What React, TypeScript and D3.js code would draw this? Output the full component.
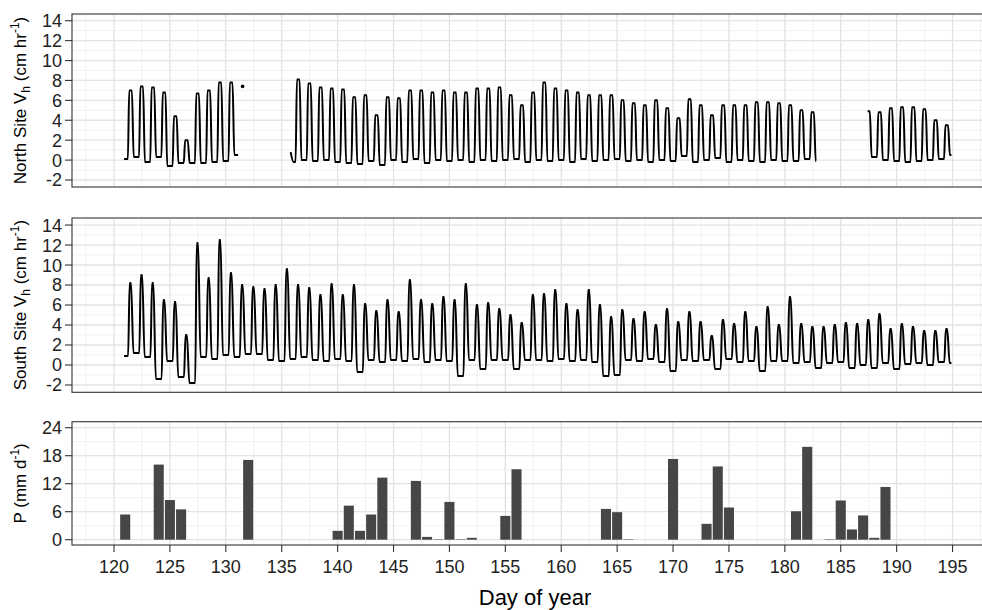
import React from 'react';
import * as d3 from 'd3';

const W = 982, H = 610;

// day-of-year categories (121 .. 194)
const days = d3.range(121, 195);

// North site sap flux: midday peak and pre-dawn low of each day (cm hr-1), null = logger gap
const northPeak = [
  7.0, 7.4, 7.3, 6.8, 4.4, 2.0, 6.7, 7.0, 7.8, 7.8,
  null, null, null, null, null,
  8.1, 7.7, 7.3, 7.2, 7.1, 6.3, 6.5, 4.5, 6.3, 6.2,
  7.0, 7.0, 6.8, 7.0, 6.8, 6.8, 7.2, 7.2, 7.3, 6.5,
  5.5, 6.8, 7.8, 7.2, 7.0, 6.8, 6.5, 6.5, 6.5, 6.0,
  5.7, 5.5, 6.0, 5.2, 4.2, 6.1, 5.5, 4.5, 5.5, 5.5,
  5.5, 5.8, 5.8, 5.7, 5.5, 5.0, 4.8,
  null, null, null, null,
  4.9, 4.8, 5.2, 5.3, 5.3, 5.1, 4.0, 3.5,
];
const northLow = [
  0.1, 0.3, -0.2, 0.3, -0.6, -0.3, -0.3, -0.3, -0.2, -0.1,
  0.5, null, null, null, null,
  -0.2, 0.0, -0.1, 0.0, -0.2, -0.3, -0.4, -0.1, -0.5, 0.0,
  -0.2, 0.1, -0.3, 0.0, -0.1, 0.0, -0.2, 0.0, -0.1, 0.0,
  0.1, -0.2, 0.0, -0.1, 0.0, -0.2, 0.1, -0.1, 0.0, 0.1,
  -0.1, 0.0, -0.2, 0.0, -0.1, 0.4, -0.2, 0.0, 0.2, -0.2,
  0.0, -0.1, -0.2, 0.0, -0.1, -0.1, 0.1,
  -0.1, null, null, null,
  null, 0.3, 0.0, -0.1, -0.2, -0.1, 0.0, 0.1,
];
const northStarts = [[120.9, 0.1], [135.8, 0.8], [187.4, 4.9]];
const northEnds = [[131.1, 0.5], [182.8, -0.1], [194.9, 0.5]];
const northDot = [131.5, 7.4];

// South site sap flux
const southPeak = [
  8.2, 9.0, 8.2, 6.5, 6.3, 3.0, 12.2, 8.7, 12.5, 9.2,
  8.0, 7.8, 7.6, 8.0, 9.6, 8.0, 7.7, 7.0, 8.1, 7.0,
  8.0, 6.1, 5.4, 6.5, 5.3, 8.5, 6.5, 6.1, 6.8, 6.5,
  8.1, 6.0, 6.2, 5.6, 5.0, 4.2, 7.0, 7.1, 7.5, 6.1,
  5.5, 7.5, 6.0, 4.8, 5.5, 4.6, 5.3, 4.0, 5.6, 4.3,
  5.3, 4.3, 2.9, 4.5, 4.1, 5.3, 3.8, 5.8, 4.0, 6.8,
  4.1, 3.8, 3.8, 4.0, 4.2, 4.1, 4.5, 5.1, 3.6, 4.1,
  3.8, 3.4, 3.4, 3.6,
];
const southLow = [
  0.9, 1.2, 0.8, -1.4, 0.4, -1.2, -1.8, 0.8, 0.6, 1.0,
  0.8, 1.1, 1.1, 0.5, 0.4, 0.6, 0.8, 0.5, 0.4, 0.6,
  0.4, -0.7, 0.5, 0.3, 0.5, 0.4, 0.6, 0.3, 0.5, 0.4,
  -1.1, 0.5, -0.4, 0.5, 0.5, -0.4, 0.5, 0.5, 0.4, 0.6,
  0.4, 0.5, 0.3, -1.1, -1.0, 0.5, 0.4, 0.6, 0.3, -0.6,
  0.5, 0.4, 0.5, -0.4, 0.6, 0.3, 0.4, -0.6, 0.4, 0.4,
  0.2, 0.3, -0.3, 0.2, 0.3, -0.3, 0.0, -0.3, 0.2, -0.4,
  0.1, 0.2, 0.0, 0.3,
];
const southStarts = [[120.9, 0.9]];
const southEnds = [[194.9, 0.2]];

// daily precipitation (mm d-1)
const precipDays = [121, 124, 125, 126, 132, 140, 141, 142, 143, 144, 147, 148, 149, 150, 151, 152, 155, 156,
  164, 165, 166, 170, 173, 174, 175, 181, 182, 184, 185, 186, 187, 188, 189];
const precipVals = [5.4, 16.1, 8.5, 6.5, 17.1, 1.9, 7.3, 1.9, 5.4, 13.3, 12.6, 0.6, 0.1, 8.1, 0.1, 0.4, 5.1, 15.1,
  6.6, 5.9, 0.1, 17.3, 3.4, 15.7, 6.9, 6.1, 19.9, 0.1, 8.4, 2.2, 5.2, 0.4, 11.3];

const xTicks = [120, 125, 130, 135, 140, 145, 150, 155, 160, 165, 170, 175, 180, 185, 190, 195];
const vTicks = [-2, 0, 2, 4, 6, 8, 10, 12, 14];
const pTicks = [0, 6, 12, 18, 24];

// time of day (fraction) of dawn low, rise to peak, end of peak, dusk low
const northClock = [0.06, 0.24, 0.36, 0.6, 0.76];
const southClock = [0.06, 0.26, 0.4, 0.52, 0.74];

const left = 72, right = 988;
const x = d3.scaleLinear().domain([116.243, 198.17]).range([left, right]);

// build one polyline per logger segment from the daily low / peak readings
function buildSegments(peak, low, starts, ends, clock) {
  return starts.map(([s, sv], k) => {
    const [e, ev] = ends[k];
    const pts = [[s, sv]];
    days.forEach((d, i) => {
      const p = peak[i];
      if (p == null) return;
      const lo = low[i] ?? sv;
      const next = low[i + 1] ?? ev;
      const vals = [lo, lo, p, p, next];
      clock.forEach((c, j) => {
        const t = d + c;
        if (t > s && t < e) pts.push([t, vals[j]]);
      });
    });
    pts.push([e, ev]);
    return pts;
  });
}

const gridMajor = '#e3e3e3', gridMinor = '#eeeeee', ink = '#333333';

function Panel({ top, bottom, y, major, minor, children }) {
  return (
    <g>
      <rect x={left} y={top} width={right - left} height={bottom - top} fill="#fff" />
      {minor.map(v => (
        <line key={'ym' + v} x1={left} x2={right} y1={y(v)} y2={y(v)} stroke={gridMinor} strokeWidth={0.8} />
      ))}
      {d3.range(117.5, 200, 5).map(v => (
        <line key={'xm' + v} x1={x(v)} x2={x(v)} y1={top} y2={bottom} stroke={gridMinor} strokeWidth={0.8} />
      ))}
      {major.map(v => (
        <line key={'yM' + v} x1={left} x2={right} y1={y(v)} y2={y(v)} stroke={gridMajor} strokeWidth={1.3} />
      ))}
      {xTicks.map(v => (
        <line key={'xM' + v} x1={x(v)} x2={x(v)} y1={top} y2={bottom} stroke={gridMajor} strokeWidth={1.3} />
      ))}
      {children}
      <rect x={left} y={top} width={right - left} height={bottom - top} fill="none" stroke={ink} strokeWidth={1.1} />
      {major.map(v => (
        <g key={'t' + v}>
          <line x1={left - 7} x2={left} y1={y(v)} y2={y(v)} stroke={ink} strokeWidth={1.1} />
          <text x={left - 10} y={y(v)} dy="0.36em" textAnchor="end" fontSize={18} fill="#222">{v}</text>
        </g>
      ))}
    </g>
  );
}

export default function App() {
  const yN = d3.scaleLinear().domain([-2.703, 14.673]).range([187, 14]);
  const yS = d3.scaleLinear().domain([-2.73, 14.703]).range([392.3, 218]);
  const yP = d3.scaleLinear().domain([-1.136, 25.29]).range([545, 421.7]);

  const lineN = d3.line().x(d => x(d[0])).y(d => yN(d[1])).curve(d3.curveMonotoneX);
  const lineS = d3.line().x(d => x(d[0])).y(d => yS(d[1])).curve(d3.curveMonotoneX);

  const northSegs = buildSegments(northPeak, northLow, northStarts, northEnds, northClock);
  const southSegs = buildSegments(southPeak, southLow, southStarts, southEnds, southClock);

  const barW = 0.9;
  const minorV = d3.range(-1, 15, 2);

  return (
    <svg width={W} height={H} style={{ position: 'absolute', left: 0, top: 0, overflow: 'hidden' }}
      fontFamily="'Liberation Sans', Arial, sans-serif">
      <rect width={W} height={H} fill="#fff" />

      <Panel top={14} bottom={187} y={yN} major={vTicks} minor={minorV}>
        {northSegs.map((s, i) => (
          <path key={i} d={lineN(s)} fill="none" stroke="#000" strokeWidth={2} strokeLinejoin="round" />
        ))}
        <circle cx={x(northDot[0])} cy={yN(northDot[1])} r={1.8} fill="#000" />
      </Panel>

      <Panel top={218} bottom={392.3} y={yS} major={vTicks} minor={minorV}>
        {southSegs.map((s, i) => (
          <path key={i} d={lineS(s)} fill="none" stroke="#000" strokeWidth={2} strokeLinejoin="round" />
        ))}
      </Panel>

      <Panel top={421.7} bottom={545} y={yP} major={pTicks} minor={[3, 9, 15, 21]}>
        {precipDays.map((d, i) => (
          <rect key={d} x={x(d - barW / 2)} width={x(d + barW / 2) - x(d - barW / 2)}
            y={yP(precipVals[i])} height={yP(0) - yP(precipVals[i])} fill="#464646" />
        ))}
      </Panel>

      {xTicks.map(v => (
        <g key={'bx' + v}>
          <line x1={x(v)} x2={x(v)} y1={545} y2={552} stroke={ink} strokeWidth={1.1} />
          <text x={x(v)} y={573} textAnchor="middle" fontSize={18} fill="#222">{v}</text>
        </g>
      ))}

      <text x={535} y={605} textAnchor="middle" fontSize={22} fill="#000">Day of year</text>

      <text transform={`translate(26,${(14 + 187) / 2}) rotate(-90)`} textAnchor="middle" fontSize={17} fill="#000">
        <tspan>North Site V</tspan>
        <tspan dy={4} fontSize={12}>h</tspan>
        <tspan dy={-4}> (cm hr</tspan>
        <tspan dy={-7} fontSize={12}>-1</tspan>
        <tspan dy={7}>)</tspan>
      </text>
      <text transform={`translate(26,${(218 + 392) / 2}) rotate(-90)`} textAnchor="middle" fontSize={17} fill="#000">
        <tspan>South Site V</tspan>
        <tspan dy={4} fontSize={12}>h</tspan>
        <tspan dy={-4}> (cm hr</tspan>
        <tspan dy={-7} fontSize={12}>-1</tspan>
        <tspan dy={7}>)</tspan>
      </text>
      <text transform={`translate(26,${(421.7 + 545) / 2}) rotate(-90)`} textAnchor="middle" fontSize={17} fill="#000">
        <tspan>P (mm d</tspan>
        <tspan dy={-7} fontSize={12}>-1</tspan>
        <tspan dy={7}>)</tspan>
      </text>
    </svg>
  );
}
